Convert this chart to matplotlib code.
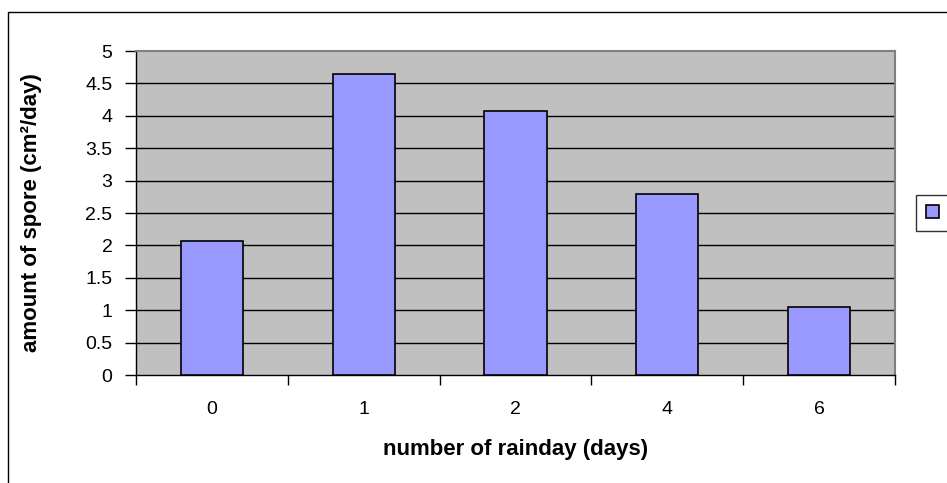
import matplotlib.pyplot as plt
from matplotlib.patches import Rectangle

plt.rcParams['font.family'] = ['Liberation Sans', 'DejaVu Sans']

days = ['0', '1', '2', '4', '6']
spore = [2.07, 4.64, 4.08, 2.80, 1.05]
yticks = [0, 0.5, 1, 1.5, 2, 2.5, 3, 3.5, 4, 4.5, 5]
ytick_labels = ['0', '0.5', '1', '1.5', '2', '2.5', '3', '3.5', '4', '4.5', '5']

W, H = 947, 483
fig = plt.figure(figsize=(W / 100, H / 100), dpi=100)

# outer chart border (cut off on right and bottom)
fig.add_artist(Rectangle((8 / W, -0.05), 1.1, 1.05 - 12 / H,
                         transform=fig.transFigure, fill=False,
                         edgecolor='black', linewidth=1.0))

ax = fig.add_axes([136 / W, (H - 375) / H, (895 - 136) / W, (375 - 51) / H])
ax.set_facecolor('#C0C0C0')

x = range(len(days))
bars = ax.bar(x, spore, width=0.41, color='#9999FF', edgecolor='black',
              linewidth=1.2, zorder=3)

ax.set_xlim(-0.5, len(days) - 0.5)
ax.set_ylim(0, 5)
ax.set_yticks(yticks)
ax.set_yticklabels(ytick_labels)
for y in yticks[1:-1]:
    ax.axhline(y, color='black', linewidth=1.0, zorder=1)

# category ticks between bars
ax.set_xticks([i - 0.5 for i in range(len(days) + 1)])
ax.set_xticklabels([])
ax.set_xticks(list(x), minor=True)
ax.set_xticklabels(days, minor=True)
ax.tick_params(axis='x', which='major', direction='out', length=7, width=1)
ax.tick_params(axis='x', which='minor', length=0, pad=19, labelsize=14)
ax.tick_params(axis='y', direction='out', length=8, width=1, labelsize=14, pad=9)

for side in ['top', 'right']:
    ax.spines[side].set_color('#808080')
    ax.spines[side].set_linewidth(1.5)
for side in ['left', 'bottom']:
    ax.spines[side].set_color('black')
    ax.spines[side].set_linewidth(1.0)

ax.set_xlabel('number of rainday (days)', fontsize=16, fontweight='bold')
ax.xaxis.set_label_coords(0.5, -(439 - 375) / (375 - 51))
ax.set_ylabel('amount of spore (cm²/day)', fontsize=16, fontweight='bold')
ax.yaxis.set_label_coords(-(136 - 42) / (895 - 136), 0.5)

leg = ax.legend([bars.patches[0]], ['          '], loc='center left',
                bbox_to_anchor=(916 / W, 1 - 213 / H), bbox_transform=fig.transFigure,
                borderaxespad=0, frameon=True, fancybox=False, edgecolor='black',
                handlelength=0.8, handleheight=0.8, borderpad=0.6, fontsize=12)
leg.get_frame().set_linewidth(1.0)

fig.savefig('out.png', dpi=100)
